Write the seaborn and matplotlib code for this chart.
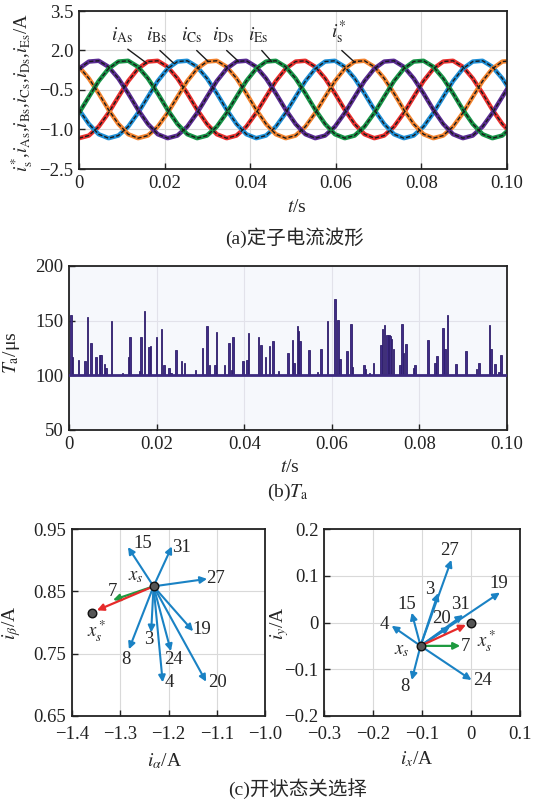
import pandas as pd
import seaborn as sns
import matplotlib.pyplot as plt

# (a) stator currents, every 2.3 ms
t = [0.0000, 0.0023, 0.0046, 0.0069, 0.0092, 0.0115, 0.0138, 0.0161, 0.0184,
     0.0207, 0.0230, 0.0253, 0.0276, 0.0299, 0.0322, 0.0345, 0.0368, 0.0391,
     0.0414, 0.0437, 0.0460, 0.0483, 0.0506, 0.0529, 0.0552, 0.0575, 0.0598,
     0.0621, 0.0644, 0.0667, 0.0690, 0.0713, 0.0736, 0.0759, 0.0782, 0.0805,
     0.0828, 0.0851, 0.0874, 0.0897, 0.0920, 0.0943, 0.0966, 0.0989, 0.1012]
i_A = [-1.33, -1.23, -0.89, -0.37, 0.24, 0.84, 1.31, 1.58, 1.61, 1.38, 0.94, 0.37, -0.25, -0.79, -1.18,
       -1.33, -1.23, -0.89, -0.37, 0.24, 0.84, 1.31, 1.58, 1.61, 1.38, 0.94, 0.37, -0.25, -0.79, -1.18,
       -1.33, -1.23, -0.89, -0.37, 0.24, 0.84, 1.31, 1.58, 1.61, 1.38, 0.94, 0.37, -0.25, -0.79, -1.18]
i_B = [-0.25, -0.79, -1.18, -1.33, -1.23, -0.89, -0.37, 0.24, 0.84, 1.31, 1.58, 1.61, 1.38, 0.94, 0.37,
       -0.25, -0.79, -1.18, -1.33, -1.23, -0.89, -0.37, 0.24, 0.84, 1.31, 1.58, 1.61, 1.38, 0.94, 0.37,
       -0.25, -0.79, -1.18, -1.33, -1.23, -0.89, -0.37, 0.24, 0.84, 1.31, 1.58, 1.61, 1.38, 0.94, 0.37]
i_C = [1.38, 0.94, 0.37, -0.25, -0.79, -1.18, -1.33, -1.23, -0.89, -0.37, 0.24, 0.84, 1.31, 1.58, 1.61,
       1.38, 0.94, 0.37, -0.25, -0.79, -1.18, -1.33, -1.23, -0.89, -0.37, 0.24, 0.84, 1.31, 1.58, 1.61,
       1.38, 0.94, 0.37, -0.25, -0.79, -1.18, -1.33, -1.23, -0.89, -0.37, 0.24, 0.84, 1.31, 1.58, 1.61]
i_D = [1.31, 1.58, 1.61, 1.38, 0.94, 0.37, -0.25, -0.79, -1.18, -1.33, -1.23, -0.89, -0.37, 0.24, 0.84,
       1.31, 1.58, 1.61, 1.38, 0.94, 0.37, -0.25, -0.79, -1.18, -1.33, -1.23, -0.89, -0.37, 0.24, 0.84,
       1.31, 1.58, 1.61, 1.38, 0.94, 0.37, -0.25, -0.79, -1.18, -1.33, -1.23, -0.89, -0.37, 0.24, 0.84]
i_E = [-0.37, 0.24, 0.84, 1.31, 1.58, 1.61, 1.38, 0.94, 0.37, -0.25, -0.79, -1.18, -1.33, -1.23, -0.89,
       -0.37, 0.24, 0.84, 1.31, 1.58, 1.61, 1.38, 0.94, 0.37, -0.25, -0.79, -1.18, -1.33, -1.23, -0.89,
       -0.37, 0.24, 0.84, 1.31, 1.58, 1.61, 1.38, 0.94, 0.37, -0.25, -0.79, -1.18, -1.33, -1.23, -0.89]
phase_names = ['A', 'B', 'C', 'D', 'E']
phase_colors = ['#e8302e', '#1f8fd6', '#f2832f', '#5a2c92', '#179447']
a_yticks = [3.5, 2.0, 0.5, -1.0, -2.5]
a_yticklabels = ['3.5', '2.0', '\u22120.5', '\u22121.0', '\u22122.5']

# (b) Ta spikes (s, us)
ta_t = [0.0005, 0.0008, 0.0022, 0.0037, 0.0042, 0.0050, 0.0061, 0.0071, 0.0073, 0.0081,
        0.0084, 0.0097, 0.0122, 0.0136, 0.0140, 0.0161, 0.0165, 0.0172, 0.0183, 0.0186,
        0.0200, 0.0211, 0.0217, 0.0229, 0.0233, 0.0245, 0.0257, 0.0264, 0.0289, 0.0305,
        0.0315, 0.0321, 0.0333, 0.0337, 0.0355, 0.0366, 0.0371, 0.0375, 0.0397, 0.0406,
        0.0410, 0.0433, 0.0438, 0.0449, 0.0458, 0.0465, 0.0478, 0.0500, 0.0510, 0.0513,
        0.0522, 0.0524, 0.0528, 0.0548, 0.0567, 0.0575, 0.0590, 0.0608, 0.0614, 0.0618,
        0.0634, 0.0644, 0.0647, 0.0673, 0.0677, 0.0686, 0.0695, 0.0713, 0.0716, 0.0720,
        0.0726, 0.0730, 0.0733, 0.0736, 0.0741, 0.0756, 0.0761, 0.0764, 0.0770, 0.0787,
        0.0790, 0.0819, 0.0836, 0.0840, 0.0854, 0.0858, 0.0864, 0.0884, 0.0907, 0.0930,
        0.0936, 0.0960, 0.0964, 0.0973, 0.0982, 0.0986]
ta_val = [155, 117, 114, 113, 153, 130, 117, 119, 119, 110,
          107, 150, 102, 117, 135, 104, 135, 159, 126, 127,
          135, 142, 109, 107, 102, 123, 113, 111, 105, 125,
          145, 109, 109, 140, 109, 130, 105, 135, 113, 114,
          139, 135, 128, 117, 127, 131, 104, 120, 132, 111,
          145, 141, 131, 123, 103, 124, 150, 170, 151, 115,
          122, 147, 108, 109, 106, 102, 111, 128, 142, 146,
          137, 137, 136, 133, 124, 109, 147, 120, 129, 107,
          109, 132, 111, 118, 143, 124, 155, 110, 122, 106,
          111, 146, 124, 110, 103, 119]
ta_base = 100

# (c) switching-state vectors, alpha-beta plane
xs_ab = (-1.231, 0.858)
xs_ab_ref = (-1.359, 0.816)
ab_labels = ['15', '31', '27', '3', '8', '24', '4', '19', '20']
ab_x = [-1.284, -1.193, -1.120, -1.236, -1.282, -1.195, -1.212, -1.149, -1.122]
ab_y = [0.921, 0.922, 0.870, 0.784, 0.757, 0.754, 0.704, 0.786, 0.705]
ab_v7 = (-1.315, 0.836)

# (c) switching-state vectors, x-y plane
xs_xy = (-0.103, -0.050)
xs_xy_ref = (0.0, 0.0)
xy_labels = ['27', '3', '19', '31', '20', '24', '8', '4', '15']
xy_x = [-0.040, -0.067, 0.059, -0.016, -0.043, 0.001, -0.121, -0.162, -0.121]
xy_y = [0.134, 0.063, 0.064, 0.016, -0.009, -0.123, -0.123, -0.007, 0.021]
xy_v7 = (-0.022, -0.050)

sns.set_theme(style='white')
plt.rcParams['font.family'] = ['Liberation Serif', 'Noto Sans CJK SC']
plt.rcParams['mathtext.fontset'] = 'stix'

W, H = 537, 807
fig = plt.figure(figsize=(W / 100, H / 100), dpi=100)


def add_ax(l, t_, r, b):
    return fig.add_axes([l / W, 1 - b / H, (r - l) / W, (b - t_) / H])


def ftext(x, y, s, **kw):
    fig.text(x / W, 1 - y / H, s, ha='center', va='center', **kw)


def style(ax, gridc='#d9d9d9', xpad=4):
    ax.grid(True, color=gridc, lw=0.8)
    ax.set_axisbelow(True)
    for sp in ax.spines.values():
        sp.set_color('#222222')
        sp.set_linewidth(1.3)
    ax.tick_params(direction='in', length=4, width=1, labelsize=13.5,
                   colors='#222222', pad=4, bottom=True, left=True)
    ax.tick_params(axis='x', pad=xpad)
    ax.set_xlabel('')
    ax.set_ylabel('')


# ---------- (a)
ax1 = add_ax(79, 11, 507, 169)
df = pd.concat([pd.DataFrame({'t': t, 'i': v, 'phase': n})
                for n, v in zip(phase_names, [i_A, i_B, i_C, i_D, i_E])])
sns.lineplot(data=df, x='t', y='i', hue='phase', palette=phase_colors,
             lw=3.2, legend=False, estimator=None, sort=False, ax=ax1)
sns.lineplot(data=df, x='t', y='i', units='phase', color='k', lw=1.0,
             dashes=False, linestyle=(0, (3, 1.5)), estimator=None, sort=False, ax=ax1)
ax1.set_xlim(0, 0.1)
ax1.set_ylim(-2.5, 3.5)
ax1.set_xticks([0, 0.02, 0.04, 0.06, 0.08, 0.10])
ax1.set_xticklabels(['0', '0.02', '0.04', '0.06', '0.08', '0.10'])
ax1.set_yticks(a_yticks)
ax1.set_yticklabels(a_yticklabels)
style(ax1)

a_labels = [r'$i_{\rm As}$', r'$i_{\rm Bs}$', r'$i_{\rm Cs}$', r'$i_{\rm Ds}$',
            r'$i_{\rm Es}$', r'$i_{\rm s}^{*}$']
a_text = [(0.0100, 2.59), (0.0182, 2.59), (0.0263, 2.59), (0.0337, 2.59),
          (0.0419, 2.59), (0.0606, 2.68)]
a_line = [((0.0114, 2.05), (0.0158, 1.52)), ((0.0189, 2.0), (0.0221, 1.52)),
          ((0.0275, 2.0), (0.0302, 1.58)), ((0.0345, 2.0), (0.0373, 1.58)),
          ((0.0427, 2.0), (0.0450, 1.58)), ((0.0614, 2.0), (0.0645, 1.54))]
for lab, (tx, ty), (p0, p1) in zip(a_labels, a_text, a_line):
    ax1.text(tx, ty, lab, ha='center', va='center', fontsize=14)
    ax1.annotate('', xy=p1, xytext=p0,
                 arrowprops=dict(arrowstyle='-', lw=1.0, color='k',
                                 shrinkA=0, shrinkB=0))

ftext(22, 92, r'$i_{\rm s}^{*}$,$i_{\rm As}$,$i_{\rm Bs}$,$i_{\rm Cs}$,$i_{\rm Ds}$,$i_{\rm Es}$/A',
      rotation=90, fontsize=13.5)
ftext(297, 207, r'$t$/s', fontsize=14)
ftext(295, 238, '(a)定子电流波形', fontsize=14)

# ---------- (b)
ax2 = add_ax(69, 266, 507, 430)
ax2.set_facecolor('#f6f8fc')
ax2.bar(ta_t, [v - ta_base for v in ta_val], bottom=ta_base, width=0.00038,
        color='#3f2c86', edgecolor='#2f1e6c', linewidth=0.6, zorder=2)
ax2.axhline(ta_base, color='#3d2a80', lw=2.0, zorder=3)
ax2.set_xlim(0, 0.1)
ax2.set_ylim(50, 200)
ax2.set_xticks([0, 0.02, 0.04, 0.06, 0.08, 0.10])
ax2.set_xticklabels(['0', '0.02', '0.04', '0.06', '0.08', '0.10'])
ax2.set_yticks([50, 100, 150, 200])
style(ax2, gridc='#e2e2ea')
ftext(12, 353, r'$T_{\rm a}$/μs', rotation=90, fontsize=14)
ftext(290, 468, r'$t$/s', fontsize=14)
ftext(288, 492, r'(b)$T_{\rm a}$', fontsize=14)

# ---------- (c)
blue, green, red = '#1a82c4', '#1d9a3f', '#e62a2a'


def vectors(ax, org, ref, v7, xs, ys):
    for x, y in zip(xs, ys):
        ax.annotate('', xy=(x, y), xytext=org,
                    arrowprops=dict(arrowstyle='-|>', color=blue, lw=1.5,
                                    mutation_scale=10, shrinkA=0, shrinkB=0))
    ax.annotate('', xy=v7, xytext=org,
                arrowprops=dict(arrowstyle='-|>', color=green, lw=1.6,
                                mutation_scale=10, shrinkA=0, shrinkB=0))
    ax.annotate('', xy=ref, xytext=org,
                arrowprops=dict(arrowstyle='-|>', color=red, lw=1.6,
                                mutation_scale=10, shrinkA=0, shrinkB=4))
    pts = pd.DataFrame({'x': [org[0], ref[0]], 'y': [org[1], ref[1]]})
    sns.scatterplot(data=pts, x='x', y='y', s=38, color='#555555',
                    edgecolor='#111111', linewidth=1.0, zorder=5, ax=ax)


ax3 = add_ax(72, 529, 265, 716)
vectors(ax3, xs_ab, xs_ab_ref, ab_v7, ab_x, ab_y)
ax3.set_xlim(-1.4, -1.0)
ax3.set_ylim(0.65, 0.95)
ax3.set_xticks([-1.4, -1.3, -1.2, -1.1, -1.0])
ax3.set_xticklabels(['\u22121.4', '\u22121.3', '\u22121.2', '\u22121.1', '\u22121.0'])
ax3.set_yticks([0.65, 0.75, 0.85, 0.95])
ax3.set_yticklabels(['0.65', '0.75', '0.85', '0.95'])
style(ax3, xpad=7)
ab_lab_pos = [(-1.254, 0.926), (-1.174, 0.921), (-1.103, 0.870), (-1.241, 0.773),
              (-1.289, 0.741), (-1.190, 0.740), (-1.198, 0.704), (-1.130, 0.788),
              (-1.098, 0.704)]
for lab, (x, y) in zip(ab_labels, ab_lab_pos):
    ax3.text(x, y, lab, ha='center', va='center', fontsize=13.5)
ax3.text(-1.316, 0.850, '7', ha='center', va='center', fontsize=13.5)
ax3.text(-1.268, 0.874, r'$x_s$', ha='center', va='center', fontsize=13.5)
ax3.text(-1.349, 0.786, r'$x_s^*$', ha='center', va='center', fontsize=13.5)
ftext(12, 623, r'$i_\beta$/A', rotation=90, fontsize=14)
ftext(165, 761, r'$i_\alpha$/A', fontsize=14)

ax4 = add_ax(324, 529, 520, 716)
vectors(ax4, xs_xy, xs_xy_ref, xy_v7, xy_x, xy_y)
ax4.set_xlim(-0.3, 0.1)
ax4.set_ylim(-0.2, 0.2)
ax4.set_xticks([-0.3, -0.2, -0.1, 0, 0.1])
ax4.set_xticklabels(['\u22120.3', '\u22120.2', '\u22120.1', '0', '0.1'])
ax4.set_yticks([-0.2, -0.1, 0, 0.1, 0.2])
ax4.set_yticklabels(['\u22120.2', '\u22120.1', '0', '0.1', '0.2'])
style(ax4, xpad=7)
xy_lab_pos = [(-0.043, 0.154), (-0.084, 0.070), (0.056, 0.084), (-0.022, 0.039),
              (-0.060, 0.009), (0.023, -0.123), (-0.135, -0.137), (-0.177, -0.005),
              (-0.131, 0.038)]
for lab, (x, y) in zip(xy_labels, xy_lab_pos):
    ax4.text(x, y, lab, ha='center', va='center', fontsize=13.5)
ax4.text(-0.012, -0.051, '7', ha='center', va='center', fontsize=13.5)
ax4.text(-0.141, -0.059, r'$x_s$', ha='center', va='center', fontsize=13.5)
ax4.text(0.032, -0.040, r'$x_s^*$', ha='center', va='center', fontsize=13.5)
ftext(280, 623, r'$i_y$/A', rotation=90, fontsize=14)
ftext(417, 759, r'$i_x$/A', fontsize=14)

ftext(298, 789, '(c)开状态关选择', fontsize=14)

fig.savefig('out.png', dpi=100)
